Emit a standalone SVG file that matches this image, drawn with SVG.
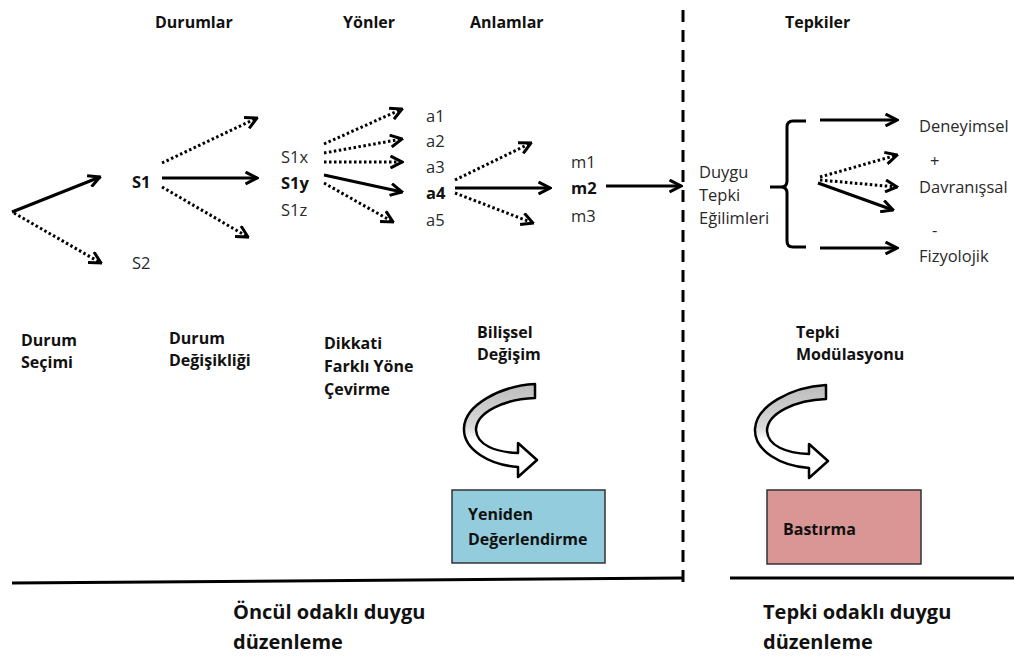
<svg xmlns="http://www.w3.org/2000/svg" width="1014" height="659" viewBox="0 0 1014 659">
  <style>
    .t { font-family: "Open Sans", "Noto Sans", sans-serif; font-size: 16.5px; fill: #2a2a2a; }
    .b { font-family: "Open Sans", "Noto Sans", sans-serif; font-size: 16px; font-weight: bold; fill: #111; }
    .big { font-family: "Open Sans", "Noto Sans", sans-serif; font-size: 20px; font-weight: bold; fill: #111; }
    .sb { font-weight: bold; fill: #111; }
    .solid { stroke: #000; stroke-width: 3; fill: none; marker-end: url(#head); }
    .dot { stroke: #000; stroke-width: 3; fill: none; stroke-dasharray: 2.5 2.5; marker-end: url(#head); }
    .curl { stroke: #000; stroke-width: 2.5; fill: url(#curlFill); stroke-linejoin: round; }
  </style>
  <defs>
    <marker id="head" viewBox="0 0 14 14" refX="12.5" refY="7" markerWidth="14" markerHeight="14" markerUnits="userSpaceOnUse" orient="auto">
      <path d="M1,1 L12.5,7 L1,13" fill="none" stroke="#000" stroke-width="3" stroke-dasharray="none" stroke-linejoin="miter"/>
    </marker>
    <linearGradient id="curlFill" x1="0" y1="0" x2="0" y2="1">
      <stop offset="0" stop-color="#bdbdbd"/>
      <stop offset="0.45" stop-color="#d8d8d8"/>
      <stop offset="0.6" stop-color="#ffffff"/>
      <stop offset="1" stop-color="#ffffff"/>
    </linearGradient>
    <path id="curlShape" d="M535,384 C500,386 465,405 464,428 C463,450 490,465 518,467 L518,477 L537,460 L518,443 L518,453 C495,452 477,445 476,430 C476,412 505,399 535,398 Z"/>
  </defs>

  <rect width="1014" height="659" fill="#fff"/>

  <!-- column headers -->
  <g id="headers">
    <text class="b" x="155" y="28">Durumlar</text>
    <text class="b" x="343" y="28">Yönler</text>
    <text class="b" x="470" y="28">Anlamlar</text>
    <text class="b" x="785" y="28">Tepkiler</text>
  </g>

  <!-- divider between the two regulation families -->
  <g id="divider">
    <line x1="683" y1="10" x2="683" y2="582" stroke="#000" stroke-width="3" stroke-dasharray="12 8"/>
    <path d="M12,583 L683,578" stroke="#000" stroke-width="3" fill="none"/>
    <line x1="730" y1="578" x2="1014" y2="578" stroke="#000" stroke-width="3"/>
  </g>

  <!-- situation nodes -->
  <g id="node-s1"><text class="t sb" x="132" y="188">S1</text></g>
  <g id="node-s2"><text class="t" x="132" y="269">S2</text></g>

  <!-- aspect nodes -->
  <g id="node-s1x"><text class="t" x="281" y="163">S1x</text></g>
  <g id="node-s1y"><text class="t sb" x="281" y="189">S1y</text></g>
  <g id="node-s1z"><text class="t" x="281" y="216">S1z</text></g>

  <!-- meaning nodes -->
  <g id="node-a1"><text class="t" x="426" y="122">a1</text></g>
  <g id="node-a2"><text class="t" x="426" y="147">a2</text></g>
  <g id="node-a3"><text class="t" x="426" y="173">a3</text></g>
  <g id="node-a4"><text class="t sb" x="426" y="199">a4</text></g>
  <g id="node-a5"><text class="t" x="426" y="226">a5</text></g>

  <g id="node-m1"><text class="t" x="571" y="168">m1</text></g>
  <g id="node-m2"><text class="t sb" x="571" y="194">m2</text></g>
  <g id="node-m3"><text class="t" x="571" y="222">m3</text></g>

  <!-- response tendencies -->
  <g id="node-tendencies">
    <text class="t" x="699" y="178">Duygu</text>
    <text class="t" x="699" y="201">Tepki</text>
    <text class="t" x="699" y="224">Eğilimleri</text>
  </g>
  <g id="node-deneyimsel"><text class="t" x="919" y="132">Deneyimsel</text></g>
  <g id="node-plus"><text class="t" x="930" y="167">+</text></g>
  <g id="node-davranissal"><text class="t" x="919" y="193">Davranışsal</text></g>
  <g id="node-minus"><text class="t" x="932" y="236">-</text></g>
  <g id="node-fizyolojik"><text class="t" x="919" y="262">Fizyolojik</text></g>

  <!-- strategy labels -->
  <g id="label-durum-secimi">
    <text class="b" x="21" y="346">Durum</text>
    <text class="b" x="21" y="368">Seçimi</text>
  </g>
  <g id="label-durum-degisikligi">
    <text class="b" x="169" y="344">Durum</text>
    <text class="b" x="169" y="366">Değişikliği</text>
  </g>
  <g id="label-dikkati">
    <text class="b" x="324" y="349">Dikkati</text>
    <text class="b" x="324" y="372">Farklı Yöne</text>
    <text class="b" x="324" y="395">Çevirme</text>
  </g>
  <g id="label-bilissel">
    <text class="b" x="477" y="338">Bilişsel</text>
    <text class="b" x="477" y="360">Değişim</text>
  </g>
  <g id="label-tepki-mod">
    <text class="b" x="796" y="338">Tepki</text>
    <text class="b" x="796" y="360">Modülasyonu</text>
  </g>

  <!-- curved process arrows -->
  <g id="curl-reappraisal"><use href="#curlShape" class="curl"/></g>
  <g id="curl-suppression"><use href="#curlShape" class="curl" transform="translate(291,1)"/></g>

  <!-- strategy boxes -->
  <g id="box-yeniden">
    <rect x="452" y="490" width="153" height="73" fill="#93cddd" stroke="#333" stroke-width="1.5"/>
    <text class="b" x="468" y="520" fill="#1b2536">Yeniden</text>
    <text class="b" x="468" y="545" fill="#1b2536">Değerlendirme</text>
  </g>
  <g id="box-bastirma">
    <rect x="767" y="490" width="154" height="74" fill="#d99694" stroke="#333" stroke-width="1.5"/>
    <text class="b" x="783" y="535" fill="#2a1414">Bastırma</text>
  </g>

  <!-- family captions -->
  <g id="caption-oncul">
    <text class="big" x="233" y="619">Öncül odaklı duygu</text>
    <text class="big" x="233" y="649">düzenleme</text>
  </g>
  <g id="caption-tepki">
    <text class="big" x="763" y="619">Tepki odaklı duygu</text>
    <text class="big" x="763" y="649">düzenleme</text>
  </g>

  <!-- connectors -->
  <g id="connectors">
    <line class="solid" x1="12" y1="212" x2="100" y2="177"/>
    <line class="dot" x1="14" y1="213" x2="101" y2="263"/>

    <line class="dot" x1="162" y1="163" x2="257" y2="118"/>
    <line class="solid" x1="162" y1="178" x2="257" y2="178"/>
    <line class="dot" x1="162" y1="187" x2="248" y2="237"/>

    <line class="dot" x1="324" y1="144" x2="402" y2="109"/>
    <line class="dot" x1="324" y1="153" x2="402" y2="139"/>
    <line class="dot" x1="324" y1="162" x2="402" y2="162"/>
    <line class="solid" x1="324" y1="175" x2="402" y2="192"/>
    <line class="dot" x1="324" y1="183" x2="393" y2="222"/>

    <line class="dot" x1="455" y1="180" x2="531" y2="143"/>
    <line class="solid" x1="455" y1="188" x2="550" y2="188"/>
    <line class="dot" x1="455" y1="193" x2="533" y2="223"/>

    <line class="solid" x1="606" y1="186" x2="681" y2="186"/>

    <path d="M806,121 L793,121 Q787,121 787,127 L787,181 Q787,187 781,187 L770,187 M781,187 Q787,187 787,193 L787,241 Q787,247 793,247 L806,247" stroke="#000" stroke-width="3" fill="none"/>
    <line class="solid" x1="820" y1="120" x2="897" y2="120"/>
    <line class="solid" x1="820" y1="248" x2="897" y2="248"/>
    <line class="dot" x1="820" y1="177" x2="897" y2="155"/>
    <line class="dot" x1="820" y1="180" x2="897" y2="187"/>
    <line class="solid" x1="818" y1="183" x2="893" y2="210"/>
  </g>
</svg>
